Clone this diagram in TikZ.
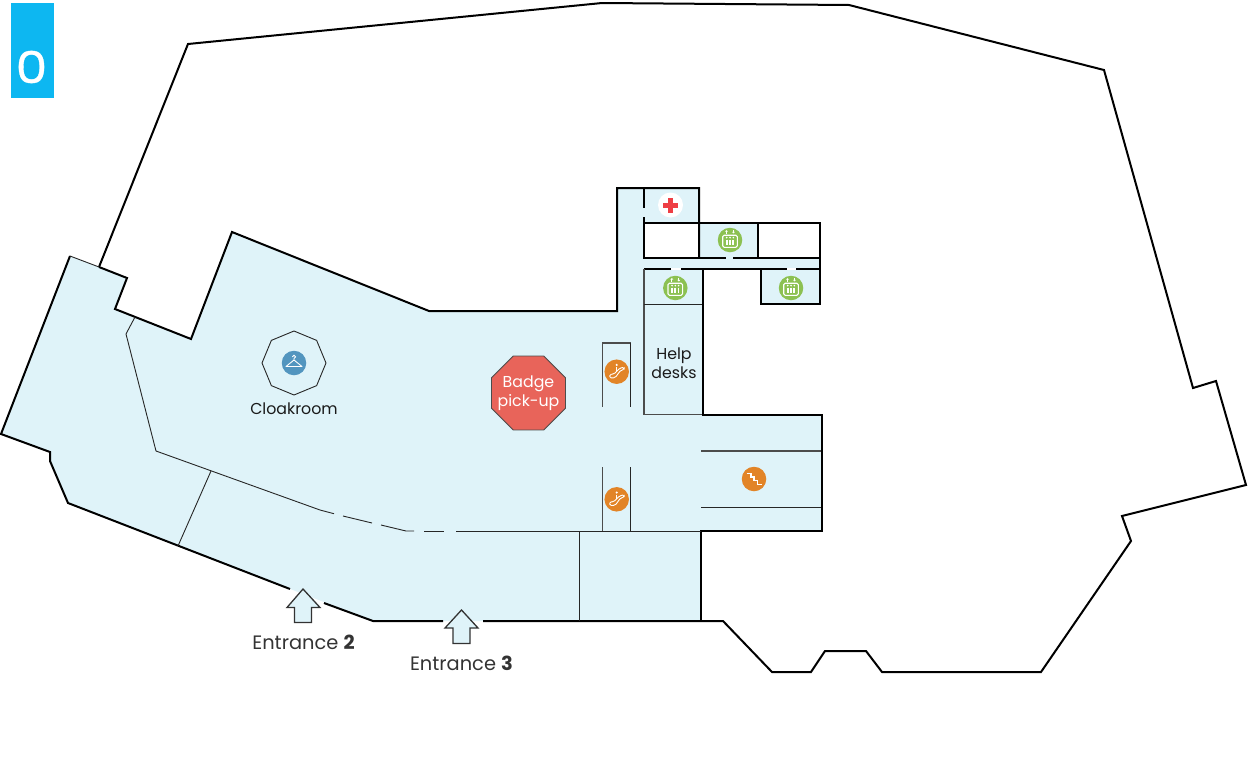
\documentclass[tikz,border=0pt]{standalone}
\usepackage{fontspec}
\setmainfont{Poppins}
\newfontfamily\zerofont[FakeStretch=1.14,FakeBold=0.8]{Poppins}
\usepackage{tikz}
\usetikzlibrary{math,shapes.geometric}
\definecolor{FloorBlue}{HTML}{DFF3F9}
\definecolor{LevelBlue}{HTML}{0DB7F1}
\definecolor{BadgeRed}{HTML}{E8645A}
\definecolor{LiftGreen}{HTML}{8CC152}
\definecolor{MoveOrange}{HTML}{E28427}
\definecolor{HangerBlue}{HTML}{5295BF}
\definecolor{CrossRed}{HTML}{EE3E44}
\definecolor{LabelInk}{HTML}{1A1A1A}
\definecolor{EntranceInk}{HTML}{333333}
\tikzset{%
  wall/.style={line width=2pt, color=black, line join=miter},
  grey wall/.style={line width=1.6pt, color=black!70},
  thin wall/.style={line width=0.9pt, color=black!85},
  label text/.style={font=\fontsize{15.8}{19.5}\selectfont, text=LabelInk, inner sep=0pt, align=center},
  entrance text/.style={font=\fontsize{19.4}{22}\selectfont, text=EntranceInk, inner sep=0pt},
  icon disc/.style={circle, minimum size=24.5pt, inner sep=0pt},
  entrance arrow/.style={line width=1.3pt, color=black!80, fill=FloorBlue, line join=miter},
  icon line/.style={color=white, line width=1pt},
  pics/lift icon/.style={code={
    \draw[icon line, rounded corners=1.5pt, line width=1.1pt] (-7.3,-4.8) rectangle (7.3,7.3);
    \foreach \k in {-3.3,0,3.3} {\draw[icon line, line width=1.7pt] (\k,-0.5) -- (\k,4.8);
      \fill[white] (\k,-2.4) circle[radius=0.9];}
    \draw[icon line, line width=0.8pt] (-3.5,-6.5) -- (-3.5,-9);
    \fill[white] (-5,-8.4) -- (-3.5,-10) -- (-2,-8.4) -- cycle;
    \draw[icon line, line width=0.8pt] (3.5,-10) -- (3.5,-7.5);
    \fill[white] (2,-8.1) -- (3.5,-6.5) -- (5,-8.1) -- cycle;
  }},
  pics/escalator icon/.style={code={
    \fill[white] (0,-6.8) circle[radius=1.2];
    \draw[icon line, line width=1.2pt] (0,-4.8) -- (0,-0.8);
    \draw[icon line, rounded corners=1.5pt, line width=0.9pt] (-7,2.5) -- (-3,2.5) -- (3,-3.5) -- (7.5,-4.5) -- (7.5,-2) -- (4,-1.5) -- (-1.5,6) -- (-7,6.3) -- cycle;
  }},
  pics/stairs icon/.style={code={
    \draw[icon line, line width=1.1pt] (-7.5,-5.5) -- (-3,-5.5) -- (-3,-2) -- (0,-2) -- (0,1.5) -- (3.5,1.5) -- (3.5,5.5) -- (8,5.5);
  }},
  pics/hanger icon/.style={code={
    \draw[icon line, line width=0.9pt, line join=round] (-8,3.5) -- (0,-3) -- (8,3.5) -- cycle;
    \draw[icon line, line width=0.9pt] (0,-3) -- (0,-4.5) arc[start angle=-90, end angle=180, x radius=1.6, y radius=-1.6];
  }}
}

\begin{document}
\begin{tikzpicture}[x=1pt,y=-1pt]
    \useasboundingbox (0,0) rectangle (1248,769);
    % Floor area.
    \fill[FloorBlue] (70,256) -- (127,278) -- (115,309) -- (191,339) -- (232,232) -- (429,311)
      -- (617,311) -- (617,188) -- (699,188) -- (699,223) -- (758,223) -- (758,258) -- (820,258)
      -- (820,304) -- (761,304) -- (761,269) -- (703,269) -- (703,414) -- (822,414) -- (822,531)
      -- (701,531) -- (701,621) -- (373,621) -- (68,503) -- (50,461) -- (50,452) -- (1,434) -- cycle;
    \fill[white] (644,223) rectangle (699,258);
    % Outer walls.
    \draw[wall] (99,267) -- (188,44) -- (602,3) -- (849,5) -- (1104,70) -- (1193,388) -- (1216,381)
      -- (1246,485) -- (1122,516) -- (1131,541) -- (1041,672) -- (882,672) -- (866,651) -- (825,651)
      -- (811,672) -- (772,672) -- (723,621) -- (483,621);
    \draw[wall] (443,621) -- (373,621) -- (324,603);
    \draw[wall] (290,589) -- (68,503) -- (50,461) -- (50,452) -- (1,434) -- (70,256);
    \draw[thin wall] (70,256) -- (99,267);
    \draw[wall] (99,267) -- (127,278) -- (115,309) -- (191,339) -- (232,232) -- (429,311)
      -- (617,311) -- (617,188) -- (699,188) -- (699,258);
    % Rooms in the north wing.
    \draw[wall] (644,188) -- (644,208);
    \draw[wall] (644,217) -- (644,258) -- (726,258);
    \draw[wall] (733,258) -- (820,258);
    \draw[wall] (644,223) -- (820,223) -- (820,304) -- (761,304) -- (761,269);
    \draw[wall] (758,223) -- (758,258);
    \draw[wall] (644,269) -- (671,269);
    \draw[white,line width=2pt] (671,269) -- (681,269);
    \draw[wall] (681,269) -- (787,269);
    \draw[white,line width=2pt] (787,269) -- (796,269);
    \draw[wall] (796,269) -- (820,269);
    % Help desks and east wing.
    \draw[grey wall] (644,269) -- (644,414.5) -- (703,414.5);
    \draw[thin wall] (644,304) -- (703,304);
    \draw[wall] (703,269) -- (703,414.5) -- (822,414.5) -- (822,531) -- (701,531) -- (701,621);
    \draw[grey wall] (701,451) -- (821,451);
    \draw[thin wall] (701,507.5) -- (821,507.5);
    % Escalators.
    \draw[grey wall] (602.5,406.5) -- (602.5,343) -- (630.5,343);
    \draw[thin wall] (630.5,343) -- (630.5,406.5);
    \draw[grey wall] (602.5,467) -- (602.5,531);
    \draw[thin wall] (630.5,467) -- (630.5,531);
    % Thin partitions.
    \draw[thin wall] (135,317) -- (126,334) -- (156,451) -- (320,510) -- (334,513.7);
    \draw[thin wall] (343,516) -- (372,523);
    \draw[thin wall] (381,525) -- (406,531) -- (414,531);
    \draw[thin wall] (424,531) -- (444,531);
    \draw[thin wall] (456,531) -- (701,531);
    \draw[thin wall] (211,471) -- (178,546);
    \draw[thin wall] (579.5,531) -- (579.5,621);
    % Level tag.
    \fill[LevelBlue] (11,3) rectangle (54,98);
    \node[text=white,font=\zerofont\fontsize{44}{44}\selectfont,inner sep=0pt] (levelzero) at (31.5,67) {0};
    % Cloakroom.
    \node[regular polygon,regular polygon sides=8,shape border rotate=22.5,draw=black!85,line width=0.9pt,
      minimum size=64pt,inner sep=0pt] (cloakroom) at (294,363) {};
    \node[icon disc,fill=HangerBlue] (hanger) at (294,363) {};
    \pic at (hanger) {hanger icon};
    \node[label text] (cloaklabel) at (294,408.7) {Cloakroom};
    % Badge pick-up.
    \node[regular polygon,regular polygon sides=8,fill=BadgeRed,draw=black!70,line width=0.8pt,
      minimum size=80pt,inner sep=0pt] (badge) at (528.5,393) {};
    \node[label text,text=white] (badgelabel) at (528.5,393) {Badge\\pick-up};
    % First aid.
    \node[icon disc,fill=white,minimum size=25pt] (firstaid) at (670.5,205) {};
    \fill[CrossRed] (663,203) rectangle (678,207.5);
    \fill[CrossRed] (668.3,197.5) rectangle (672.8,212.5);
    % Lifts.
    \node[icon disc,fill=LiftGreen] (liftmid) at (730,240) {};
    \pic at (liftmid) {lift icon};
    \node[icon disc,fill=LiftGreen] (liftleft) at (675.3,288) {};
    \pic at (liftleft) {lift icon};
    \node[icon disc,fill=LiftGreen] (liftright) at (791,288) {};
    \pic at (liftright) {lift icon};
    % Help desks.
    \node[label text] (helplabel) at (674,363) {Help\\desks};
    % Moving stairs.
    \node[icon disc,fill=MoveOrange] (escup) at (616.7,371.7) {};
    \pic at (escup) {escalator icon};
    \node[icon disc,fill=MoveOrange] (escdown) at (616.7,499.3) {};
    \pic at (escdown) {escalator icon};
    \node[icon disc,fill=MoveOrange] (stairs) at (754,479) {};
    \pic at (stairs) {stairs icon};
    % Entrances.
    \draw[entrance arrow] (303,589) -- (320,607.5) -- (311.5,607.5) -- (311.5,622.5) -- (294.5,622.5) -- (294.5,607.5) -- (287,607.5) -- cycle;
    \node[entrance text] (entrancetwo) at (303.5,642) {Entrance \textbf{2}};
    \draw[entrance arrow] (461.5,610) -- (478,628) -- (470,628) -- (470,643.5) -- (453,643.5) -- (453,628) -- (445,628) -- cycle;
    \node[entrance text] (entrancethree) at (461.5,663) {Entrance \textbf{3}};
\end{tikzpicture}
\end{document}
